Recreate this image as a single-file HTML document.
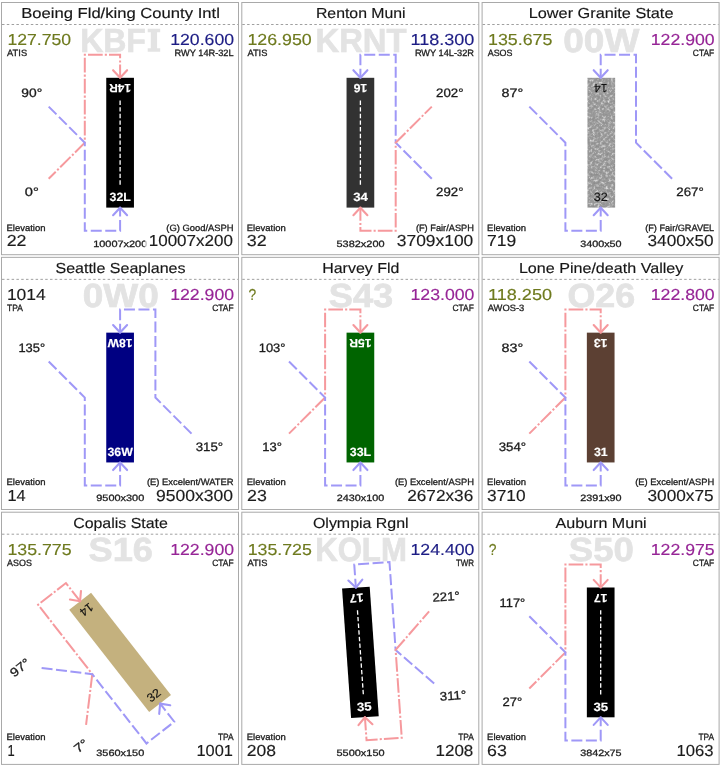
<!DOCTYPE html>
<html lang="en"><head><meta charset="utf-8"><title>Airport traffic patterns</title>
<style>
html,body{margin:0;padding:0;background:#fff;}
body{width:720px;height:765px;overflow:hidden;position:relative;font-family:"Liberation Sans",sans-serif;}
.grid{position:absolute;left:0;top:0;width:720px;height:765px;filter:blur(0.5px);}
.cell{will-change:transform;position:absolute;width:240px;height:256px;overflow:hidden;}
.cell svg{text-rendering:geometricPrecision;display:block;width:240px;height:256px;font-family:"Liberation Sans",sans-serif;}
</style></head><body>
<svg width="0" height="0" style="position:absolute"><defs>
<filter id="gravel" x="0" y="0" width="100%" height="100%" color-interpolation-filters="sRGB">
<feTurbulence type="fractalNoise" baseFrequency="0.38" numOctaves="3" seed="11" result="n"/>
<feColorMatrix in="n" type="matrix" values="1 0 0 0 0  1 0 0 0 0  1 0 0 0 0  0 0 0 0 1" result="g"/>
<feComponentTransfer in="g" result="m">
<feFuncR type="table" tableValues="0.52 0.55 0.58 0.61 0.72 0.86 0.92"/>
<feFuncG type="table" tableValues="0.52 0.55 0.58 0.61 0.72 0.86 0.92"/>
<feFuncB type="table" tableValues="0.52 0.55 0.58 0.61 0.72 0.86 0.92"/>
</feComponentTransfer>
<feComposite in="m" in2="SourceGraphic" operator="in"/>
</filter></defs></svg>
<div class="grid">
<div class="cell" style="left:0px;top:0px"><svg viewBox="0 0 240 256"><g transform="translate(0.00 0.00)"><rect x="1.5" y="2.5" width="237" height="252.2" fill="#fff" stroke="#a9a9a9" stroke-width="1"/><line x1="2" y1="24.5" x2="238" y2="24.5" stroke="#a0a0a0" stroke-width="1" stroke-dasharray="2.5 2.3"/><text x="80.20" y="51.70" font-size="33.4" fill="#e3e3e3" font-weight="700" textLength="65.70" lengthAdjust="spacingAndGlyphs" stroke="#e3e3e3" stroke-width="0.7">KBF</text><path d="M147.7 28.8h12.5v3.4h-3.1v16.1h3.1v3.4h-12.5v-3.4h3.1v-16.1h-3.1z" fill="#e3e3e3"/><text x="21.15" y="18.30" font-size="14.5" fill="#161616" textLength="198.70" lengthAdjust="spacingAndGlyphs" stroke="#161616" stroke-width="0.15">Boeing Fld/king County Intl</text><text x="7.40" y="45.00" font-size="15.9" fill="#6e7a1e" textLength="63.70" lengthAdjust="spacingAndGlyphs" stroke="#6e7a1e" stroke-width="0.15">127.750</text><text x="7.10" y="56.00" font-size="9.1" fill="#1c1c1c" textLength="20.00" lengthAdjust="spacingAndGlyphs" stroke="#1c1c1c" stroke-width="0.3">ATIS</text><text x="170.20" y="45.00" font-size="15.9" fill="#1c1c84" textLength="63.90" lengthAdjust="spacingAndGlyphs" stroke="#1c1c84" stroke-width="0.15">120.600</text><text x="174.60" y="56.00" font-size="9.1" fill="#1c1c1c" textLength="59.00" lengthAdjust="spacingAndGlyphs" stroke="#1c1c1c" stroke-width="0.3">RWY 14R-32L</text><g transform="translate(120.1 142.7) rotate(0)"><rect x="-13.85" y="-64.9" width="27.7" height="129.8" fill="#000"/><path d="M-71.40 36.10L-35.30 0L-35.30 -88.00L0 -88.00L0 -64.10" fill="none" stroke="#f6999d" stroke-width="2" stroke-dasharray="14.7 2.1 2.1 2.1" stroke-dashoffset="4.75"/><path d="M-7.00 -72.50L0 -65.00L7.00 -72.50" fill="none" stroke-linejoin="round" stroke="#f6999d" stroke-width="2.1" stroke-linecap="round"/><path d="M-71.40 -36.10L-35.30 0L-35.30 88.00L0 88.00L0 64.10" fill="none" stroke="#9f98f7" stroke-width="2" stroke-dasharray="11 3.5"/><path d="M-7.00 72.50L0 65.00L7.00 72.50" fill="none" stroke-linejoin="round" stroke="#9f98f7" stroke-width="2.1" stroke-linecap="round"/><line x1="0" y1="-42.2" x2="0" y2="42.4" stroke="#fff" stroke-width="1.3" stroke-dasharray="4.4 2.25"/><g transform="rotate(180 0 -54.3)"><text x="-10.80" y="-50.05" font-size="12.0" fill="#fff" font-weight="700" textLength="21.60" lengthAdjust="spacingAndGlyphs" stroke="#fff" stroke-width="0.15">14R</text></g><text x="-10.55" y="58.55" font-size="12.0" fill="#fff" font-weight="700" textLength="21.30" lengthAdjust="spacingAndGlyphs" stroke="#fff" stroke-width="0.15">32L</text><text x="-98.80" y="-45.45" font-size="12.3" fill="#1c1c1c" textLength="20.90" lengthAdjust="spacingAndGlyphs" stroke="#1c1c1c" stroke-width="0.3">90°</text><text x="-95.35" y="53.75" font-size="12.3" fill="#1c1c1c" textLength="14.00" lengthAdjust="spacingAndGlyphs" stroke="#1c1c1c" stroke-width="0.3">0°</text></g><text x="6.50" y="230.50" font-size="9.1" fill="#1c1c1c" textLength="39.00" lengthAdjust="spacingAndGlyphs" stroke="#1c1c1c" stroke-width="0.3">Elevation</text><text x="6.70" y="246.35" font-size="15.9" fill="#1c1c1c" textLength="19.80" lengthAdjust="spacingAndGlyphs" stroke="#1c1c1c" stroke-width="0.15">22</text><text x="93.20" y="246.50" font-size="9.2" fill="#1c1c1c" textLength="54.10" lengthAdjust="spacingAndGlyphs" stroke="#1c1c1c" stroke-width="0.3">10007x200</text><text x="166.30" y="230.50" font-size="9.1" fill="#1c1c1c" textLength="67.30" lengthAdjust="spacingAndGlyphs" stroke="#1c1c1c" stroke-width="0.3">(G) Good/ASPH</text><rect x="145.2" y="233" width="90.3" height="17" fill="#fff" fill-opacity="0.75"/><text x="148.70" y="246.35" font-size="15.9" fill="#1c1c1c" textLength="84.30" lengthAdjust="spacingAndGlyphs" stroke="#1c1c1c" stroke-width="0.15">10007x200</text></g></svg></div>
<div class="cell" style="left:240px;top:0px"><svg viewBox="0 0 240 256"><g transform="translate(0.30 0.00)"><rect x="1.5" y="2.5" width="237" height="252.2" fill="#fff" stroke="#a9a9a9" stroke-width="1"/><line x1="2" y1="24.5" x2="238" y2="24.5" stroke="#a0a0a0" stroke-width="1" stroke-dasharray="2.5 2.3"/><text x="75.20" y="51.70" font-size="33.4" fill="#e3e3e3" font-weight="700" textLength="91.00" lengthAdjust="spacingAndGlyphs" stroke="#e3e3e3" stroke-width="0.7">KRNT</text><text x="75.65" y="18.30" font-size="14.5" fill="#161616" textLength="89.70" lengthAdjust="spacingAndGlyphs" stroke="#161616" stroke-width="0.15">Renton Muni</text><text x="7.10" y="45.00" font-size="15.9" fill="#6e7a1e" textLength="64.30" lengthAdjust="spacingAndGlyphs" stroke="#6e7a1e" stroke-width="0.15">126.950</text><text x="7.10" y="56.00" font-size="9.1" fill="#1c1c1c" textLength="20.00" lengthAdjust="spacingAndGlyphs" stroke="#1c1c1c" stroke-width="0.3">ATIS</text><text x="170.20" y="45.00" font-size="15.9" fill="#1c1c84" textLength="63.90" lengthAdjust="spacingAndGlyphs" stroke="#1c1c84" stroke-width="0.15">118.300</text><text x="174.60" y="56.00" font-size="9.1" fill="#1c1c1c" textLength="59.00" lengthAdjust="spacingAndGlyphs" stroke="#1c1c1c" stroke-width="0.3">RWY 14L-32R</text><g transform="translate(120.1 142.7) rotate(0)"><rect x="-13.85" y="-64.9" width="27.7" height="129.8" fill="#323232"/><path d="M71.40 36.10L35.30 0L35.30 -88.00L0 -88.00L0 -64.10" fill="none" stroke="#9f98f7" stroke-width="2" stroke-dasharray="11 3.5"/><path d="M-7.00 -72.50L0 -65.00L7.00 -72.50" fill="none" stroke-linejoin="round" stroke="#9f98f7" stroke-width="2.1" stroke-linecap="round"/><path d="M71.40 -36.10L35.30 0L35.30 88.00L0 88.00L0 64.10" fill="none" stroke="#f6999d" stroke-width="2" stroke-dasharray="14.7 2.1 2.1 2.1" stroke-dashoffset="4.75"/><path d="M-7.00 72.50L0 65.00L7.00 72.50" fill="none" stroke-linejoin="round" stroke="#f6999d" stroke-width="2.1" stroke-linecap="round"/><line x1="0" y1="-42.2" x2="0" y2="42.4" stroke="#fff" stroke-width="1.3" stroke-dasharray="4.4 2.25"/><g transform="rotate(180 0 -54.3)"><text x="-6.90" y="-50.05" font-size="12.0" fill="#fff" font-weight="700" textLength="13.80" lengthAdjust="spacingAndGlyphs" stroke="#fff" stroke-width="0.15">16</text></g><text x="-7.25" y="58.55" font-size="12.0" fill="#fff" font-weight="700" textLength="14.70" lengthAdjust="spacingAndGlyphs" stroke="#fff" stroke-width="0.15">34</text><text x="75.65" y="-45.45" font-size="12.3" fill="#1c1c1c" textLength="27.40" lengthAdjust="spacingAndGlyphs" stroke="#1c1c1c" stroke-width="0.3">202°</text><text x="75.65" y="53.75" font-size="12.3" fill="#1c1c1c" textLength="27.40" lengthAdjust="spacingAndGlyphs" stroke="#1c1c1c" stroke-width="0.3">292°</text></g><text x="6.50" y="230.50" font-size="9.1" fill="#1c1c1c" textLength="39.00" lengthAdjust="spacingAndGlyphs" stroke="#1c1c1c" stroke-width="0.3">Elevation</text><text x="6.50" y="246.35" font-size="15.9" fill="#1c1c1c" textLength="19.90" lengthAdjust="spacingAndGlyphs" stroke="#1c1c1c" stroke-width="0.15">32</text><text x="96.25" y="246.50" font-size="9.2" fill="#1c1c1c" textLength="48.00" lengthAdjust="spacingAndGlyphs" stroke="#1c1c1c" stroke-width="0.3">5382x200</text><text x="175.60" y="230.50" font-size="9.1" fill="#1c1c1c" textLength="58.00" lengthAdjust="spacingAndGlyphs" stroke="#1c1c1c" stroke-width="0.3">(F) Fair/ASPH</text><rect x="153.0" y="233" width="82.5" height="17" fill="#fff" fill-opacity="0.75"/><text x="156.50" y="246.35" font-size="15.9" fill="#1c1c1c" textLength="76.50" lengthAdjust="spacingAndGlyphs" stroke="#1c1c1c" stroke-width="0.15">3709x100</text></g></svg></div>
<div class="cell" style="left:480px;top:0px"><svg viewBox="0 0 240 256"><g transform="translate(0.60 0.00)"><rect x="1.5" y="2.5" width="237" height="252.2" fill="#fff" stroke="#a9a9a9" stroke-width="1"/><line x1="2" y1="24.5" x2="238" y2="24.5" stroke="#a0a0a0" stroke-width="1" stroke-dasharray="2.5 2.3"/><text x="82.70" y="51.70" font-size="33.4" fill="#e3e3e3" font-weight="700" textLength="76.00" lengthAdjust="spacingAndGlyphs" stroke="#e3e3e3" stroke-width="0.7">00W</text><text x="48.15" y="18.30" font-size="14.5" fill="#161616" textLength="144.70" lengthAdjust="spacingAndGlyphs" stroke="#161616" stroke-width="0.15">Lower Granite State</text><text x="7.40" y="45.00" font-size="15.9" fill="#6e7a1e" textLength="64.40" lengthAdjust="spacingAndGlyphs" stroke="#6e7a1e" stroke-width="0.15">135.675</text><text x="7.10" y="56.00" font-size="9.1" fill="#1c1c1c" textLength="24.80" lengthAdjust="spacingAndGlyphs" stroke="#1c1c1c" stroke-width="0.3">ASOS</text><text x="170.20" y="45.00" font-size="15.9" fill="#962496" textLength="63.90" lengthAdjust="spacingAndGlyphs" stroke="#962496" stroke-width="0.15">122.900</text><text x="212.20" y="56.00" font-size="9.1" fill="#1c1c1c" textLength="21.40" lengthAdjust="spacingAndGlyphs" stroke="#1c1c1c" stroke-width="0.3">CTAF</text><g transform="translate(120.1 142.7) rotate(0)"><rect x="-13.25" y="-64.9" width="27.7" height="129.8" fill="#a4a4a4" filter="url(#gravel)"/><path d="M-71.40 -36.10L-35.30 0L-35.30 88.00L0 88.00L0 64.10" fill="none" stroke="#9f98f7" stroke-width="2" stroke-dasharray="11 3.5"/><path d="M-7.00 72.50L0 65.00L7.00 72.50" fill="none" stroke-linejoin="round" stroke="#9f98f7" stroke-width="2.1" stroke-linecap="round"/><path d="M71.40 36.10L35.30 0L35.30 -88.00L0 -88.00L0 -64.10" fill="none" stroke="#9f98f7" stroke-width="2" stroke-dasharray="11 3.5"/><path d="M-7.00 -72.50L0 -65.00L7.00 -72.50" fill="none" stroke-linejoin="round" stroke="#9f98f7" stroke-width="2.1" stroke-linecap="round"/><g transform="rotate(180 0 -54.3)"><text x="-6.70" y="-50.05" font-size="12.0" fill="#111" textLength="13.40" lengthAdjust="spacingAndGlyphs" stroke="#111" stroke-width="0.15">14</text></g><text x="-6.90" y="58.55" font-size="12.0" fill="#111" textLength="14.00" lengthAdjust="spacingAndGlyphs" stroke="#111" stroke-width="0.15">32</text><text x="-99.20" y="-45.45" font-size="12.3" fill="#1c1c1c" textLength="21.70" lengthAdjust="spacingAndGlyphs" stroke="#1c1c1c" stroke-width="0.3">87°</text><text x="75.65" y="53.75" font-size="12.3" fill="#1c1c1c" textLength="27.40" lengthAdjust="spacingAndGlyphs" stroke="#1c1c1c" stroke-width="0.3">267°</text></g><text x="6.50" y="230.50" font-size="9.1" fill="#1c1c1c" textLength="39.00" lengthAdjust="spacingAndGlyphs" stroke="#1c1c1c" stroke-width="0.3">Elevation</text><text x="6.50" y="246.35" font-size="15.9" fill="#1c1c1c" textLength="29.20" lengthAdjust="spacingAndGlyphs" stroke="#1c1c1c" stroke-width="0.15">719</text><text x="99.55" y="246.50" font-size="9.2" fill="#1c1c1c" textLength="41.40" lengthAdjust="spacingAndGlyphs" stroke="#1c1c1c" stroke-width="0.3">3400x50</text><text x="164.60" y="230.50" font-size="9.1" fill="#1c1c1c" textLength="69.00" lengthAdjust="spacingAndGlyphs" stroke="#1c1c1c" stroke-width="0.3">(F) Fair/GRAVEL</text><rect x="163.4" y="233" width="72.1" height="17" fill="#fff" fill-opacity="0.75"/><text x="166.90" y="246.35" font-size="15.9" fill="#1c1c1c" textLength="66.10" lengthAdjust="spacingAndGlyphs" stroke="#1c1c1c" stroke-width="0.15">3400x50</text></g></svg></div>
<div class="cell" style="left:0px;top:254px"><svg viewBox="0 0 240 256"><g transform="translate(0.00 0.85)"><rect x="1.5" y="2.5" width="237" height="252.2" fill="#fff" stroke="#a9a9a9" stroke-width="1"/><line x1="2" y1="24.5" x2="238" y2="24.5" stroke="#a0a0a0" stroke-width="1" stroke-dasharray="2.5 2.3"/><text x="82.70" y="51.70" font-size="33.4" fill="#e3e3e3" font-weight="700" textLength="76.00" lengthAdjust="spacingAndGlyphs" stroke="#e3e3e3" stroke-width="0.7">0W0</text><text x="55.45" y="18.30" font-size="14.5" fill="#161616" textLength="130.10" lengthAdjust="spacingAndGlyphs" stroke="#161616" stroke-width="0.15">Seattle Seaplanes</text><text x="6.90" y="45.00" font-size="15.9" fill="#1c1c1c" textLength="38.90" lengthAdjust="spacingAndGlyphs" stroke="#1c1c1c" stroke-width="0.15">1014</text><text x="7.10" y="56.00" font-size="9.1" fill="#1c1c1c" textLength="15.80" lengthAdjust="spacingAndGlyphs" stroke="#1c1c1c" stroke-width="0.3">TPA</text><text x="170.20" y="45.00" font-size="15.9" fill="#962496" textLength="63.90" lengthAdjust="spacingAndGlyphs" stroke="#962496" stroke-width="0.15">122.900</text><text x="212.20" y="56.00" font-size="9.1" fill="#1c1c1c" textLength="21.40" lengthAdjust="spacingAndGlyphs" stroke="#1c1c1c" stroke-width="0.3">CTAF</text><g transform="translate(120.1 142.7) rotate(0)"><rect x="-13.85" y="-64.9" width="27.7" height="129.8" fill="#000082"/><path d="M-71.40 -36.10L-35.30 0L-35.30 88.00L0 88.00L0 64.10" fill="none" stroke="#9f98f7" stroke-width="2" stroke-dasharray="11 3.5"/><path d="M-7.00 72.50L0 65.00L7.00 72.50" fill="none" stroke-linejoin="round" stroke="#9f98f7" stroke-width="2.1" stroke-linecap="round"/><path d="M71.40 36.10L35.30 0L35.30 -88.00L0 -88.00L0 -64.10" fill="none" stroke="#9f98f7" stroke-width="2" stroke-dasharray="11 3.5"/><path d="M-7.00 -72.50L0 -65.00L7.00 -72.50" fill="none" stroke-linejoin="round" stroke="#9f98f7" stroke-width="2.1" stroke-linecap="round"/><g transform="rotate(180 0 -54.3)"><text x="-12.35" y="-50.05" font-size="12.0" fill="#fff" font-weight="700" textLength="24.70" lengthAdjust="spacingAndGlyphs" stroke="#fff" stroke-width="0.15">18W</text></g><text x="-12.60" y="58.55" font-size="12.0" fill="#fff" font-weight="700" textLength="25.40" lengthAdjust="spacingAndGlyphs" stroke="#fff" stroke-width="0.15">36W</text><text x="-101.70" y="-45.45" font-size="12.3" fill="#1c1c1c" textLength="26.70" lengthAdjust="spacingAndGlyphs" stroke="#1c1c1c" stroke-width="0.3">135°</text><text x="75.65" y="53.75" font-size="12.3" fill="#1c1c1c" textLength="27.40" lengthAdjust="spacingAndGlyphs" stroke="#1c1c1c" stroke-width="0.3">315°</text></g><text x="6.50" y="230.50" font-size="9.1" fill="#1c1c1c" textLength="39.00" lengthAdjust="spacingAndGlyphs" stroke="#1c1c1c" stroke-width="0.3">Elevation</text><text x="7.50" y="246.35" font-size="15.9" fill="#1c1c1c" textLength="18.20" lengthAdjust="spacingAndGlyphs" stroke="#1c1c1c" stroke-width="0.15">14</text><text x="96.25" y="246.50" font-size="9.2" fill="#1c1c1c" textLength="48.00" lengthAdjust="spacingAndGlyphs" stroke="#1c1c1c" stroke-width="0.3">9500x300</text><text x="146.90" y="230.50" font-size="9.1" fill="#1c1c1c" textLength="86.70" lengthAdjust="spacingAndGlyphs" stroke="#1c1c1c" stroke-width="0.3">(E) Excelent/WATER</text><rect x="152.4" y="233" width="83.1" height="17" fill="#fff" fill-opacity="0.75"/><text x="155.90" y="246.35" font-size="15.9" fill="#1c1c1c" textLength="77.10" lengthAdjust="spacingAndGlyphs" stroke="#1c1c1c" stroke-width="0.15">9500x300</text></g></svg></div>
<div class="cell" style="left:240px;top:254px"><svg viewBox="0 0 240 256"><g transform="translate(0.30 0.85)"><rect x="1.5" y="2.5" width="237" height="252.2" fill="#fff" stroke="#a9a9a9" stroke-width="1"/><line x1="2" y1="24.5" x2="238" y2="24.5" stroke="#a0a0a0" stroke-width="1" stroke-dasharray="2.5 2.3"/><text x="88.50" y="51.70" font-size="33.4" fill="#e3e3e3" font-weight="700" textLength="64.40" lengthAdjust="spacingAndGlyphs" stroke="#e3e3e3" stroke-width="0.7">S43</text><text x="81.95" y="18.30" font-size="14.5" fill="#161616" textLength="77.10" lengthAdjust="spacingAndGlyphs" stroke="#161616" stroke-width="0.15">Harvey Fld</text><text x="8.10" y="45.00" font-size="15.9" fill="#6e7a1e" textLength="7.70" lengthAdjust="spacingAndGlyphs" stroke="#6e7a1e" stroke-width="0.15">?</text><text x="170.20" y="45.00" font-size="15.9" fill="#962496" textLength="63.90" lengthAdjust="spacingAndGlyphs" stroke="#962496" stroke-width="0.15">123.000</text><text x="212.20" y="56.00" font-size="9.1" fill="#1c1c1c" textLength="21.40" lengthAdjust="spacingAndGlyphs" stroke="#1c1c1c" stroke-width="0.3">CTAF</text><g transform="translate(120.1 142.7) rotate(0)"><rect x="-13.85" y="-64.9" width="27.7" height="129.8" fill="#006400"/><path d="M-71.40 36.10L-35.30 0L-35.30 -88.00L0 -88.00L0 -64.10" fill="none" stroke="#f6999d" stroke-width="2" stroke-dasharray="14.7 2.1 2.1 2.1" stroke-dashoffset="4.75"/><path d="M-7.00 -72.50L0 -65.00L7.00 -72.50" fill="none" stroke-linejoin="round" stroke="#f6999d" stroke-width="2.1" stroke-linecap="round"/><path d="M-71.40 -36.10L-35.30 0L-35.30 88.00L0 88.00L0 64.10" fill="none" stroke="#9f98f7" stroke-width="2" stroke-dasharray="11 3.5"/><path d="M-7.00 72.50L0 65.00L7.00 72.50" fill="none" stroke-linejoin="round" stroke="#9f98f7" stroke-width="2.1" stroke-linecap="round"/><g transform="rotate(180 0 -54.3)"><text x="-11.05" y="-50.05" font-size="12.0" fill="#fff" font-weight="700" textLength="22.10" lengthAdjust="spacingAndGlyphs" stroke="#fff" stroke-width="0.15">15R</text></g><text x="-10.60" y="58.55" font-size="12.0" fill="#fff" font-weight="700" textLength="21.40" lengthAdjust="spacingAndGlyphs" stroke="#fff" stroke-width="0.15">33L</text><text x="-101.70" y="-45.45" font-size="12.3" fill="#1c1c1c" textLength="26.70" lengthAdjust="spacingAndGlyphs" stroke="#1c1c1c" stroke-width="0.3">103°</text><text x="-98.20" y="53.75" font-size="12.3" fill="#1c1c1c" textLength="19.70" lengthAdjust="spacingAndGlyphs" stroke="#1c1c1c" stroke-width="0.3">13°</text></g><text x="6.50" y="230.50" font-size="9.1" fill="#1c1c1c" textLength="39.00" lengthAdjust="spacingAndGlyphs" stroke="#1c1c1c" stroke-width="0.3">Elevation</text><text x="6.70" y="246.35" font-size="15.9" fill="#1c1c1c" textLength="19.80" lengthAdjust="spacingAndGlyphs" stroke="#1c1c1c" stroke-width="0.15">23</text><text x="96.55" y="246.50" font-size="9.2" fill="#1c1c1c" textLength="47.40" lengthAdjust="spacingAndGlyphs" stroke="#1c1c1c" stroke-width="0.3">2430x100</text><text x="154.60" y="230.50" font-size="9.1" fill="#1c1c1c" textLength="79.00" lengthAdjust="spacingAndGlyphs" stroke="#1c1c1c" stroke-width="0.3">(E) Excelent/ASPH</text><rect x="163.4" y="233" width="72.1" height="17" fill="#fff" fill-opacity="0.75"/><text x="166.90" y="246.35" font-size="15.9" fill="#1c1c1c" textLength="66.10" lengthAdjust="spacingAndGlyphs" stroke="#1c1c1c" stroke-width="0.15">2672x36</text></g></svg></div>
<div class="cell" style="left:480px;top:254px"><svg viewBox="0 0 240 256"><g transform="translate(0.60 0.85)"><rect x="1.5" y="2.5" width="237" height="252.2" fill="#fff" stroke="#a9a9a9" stroke-width="1"/><line x1="2" y1="24.5" x2="238" y2="24.5" stroke="#a0a0a0" stroke-width="1" stroke-dasharray="2.5 2.3"/><text x="86.85" y="51.70" font-size="33.4" fill="#e3e3e3" font-weight="700" textLength="67.70" lengthAdjust="spacingAndGlyphs" stroke="#e3e3e3" stroke-width="0.7">O26</text><text x="38.30" y="18.30" font-size="14.5" fill="#161616" textLength="164.40" lengthAdjust="spacingAndGlyphs" stroke="#161616" stroke-width="0.15">Lone Pine/death Valley</text><text x="7.40" y="45.00" font-size="15.9" fill="#6e7a1e" textLength="64.00" lengthAdjust="spacingAndGlyphs" stroke="#6e7a1e" stroke-width="0.15">118.250</text><text x="7.10" y="56.00" font-size="9.1" fill="#1c1c1c" textLength="36.50" lengthAdjust="spacingAndGlyphs" stroke="#1c1c1c" stroke-width="0.3">AWOS-3</text><text x="170.20" y="45.00" font-size="15.9" fill="#962496" textLength="63.90" lengthAdjust="spacingAndGlyphs" stroke="#962496" stroke-width="0.15">122.800</text><text x="212.20" y="56.00" font-size="9.1" fill="#1c1c1c" textLength="21.40" lengthAdjust="spacingAndGlyphs" stroke="#1c1c1c" stroke-width="0.3">CTAF</text><g transform="translate(120.1 142.7) rotate(0)"><rect x="-13.85" y="-64.9" width="27.7" height="129.8" fill="#5c4033"/><path d="M-71.40 36.10L-35.30 0L-35.30 -88.00L0 -88.00L0 -64.10" fill="none" stroke="#f6999d" stroke-width="2" stroke-dasharray="14.7 2.1 2.1 2.1" stroke-dashoffset="4.75"/><path d="M-7.00 -72.50L0 -65.00L7.00 -72.50" fill="none" stroke-linejoin="round" stroke="#f6999d" stroke-width="2.1" stroke-linecap="round"/><path d="M-71.40 -36.10L-35.30 0L-35.30 88.00L0 88.00L0 64.10" fill="none" stroke="#9f98f7" stroke-width="2" stroke-dasharray="11 3.5"/><path d="M-7.00 72.50L0 65.00L7.00 72.50" fill="none" stroke-linejoin="round" stroke="#9f98f7" stroke-width="2.1" stroke-linecap="round"/><g transform="rotate(180 0 -54.3)"><text x="-6.90" y="-50.05" font-size="12.0" fill="#fff" font-weight="700" textLength="13.80" lengthAdjust="spacingAndGlyphs" stroke="#fff" stroke-width="0.15">13</text></g><text x="-6.80" y="58.55" font-size="12.0" fill="#fff" font-weight="700" textLength="13.80" lengthAdjust="spacingAndGlyphs" stroke="#fff" stroke-width="0.15">31</text><text x="-99.20" y="-45.45" font-size="12.3" fill="#1c1c1c" textLength="21.70" lengthAdjust="spacingAndGlyphs" stroke="#1c1c1c" stroke-width="0.3">83°</text><text x="-102.05" y="53.75" font-size="12.3" fill="#1c1c1c" textLength="27.40" lengthAdjust="spacingAndGlyphs" stroke="#1c1c1c" stroke-width="0.3">354°</text></g><text x="6.50" y="230.50" font-size="9.1" fill="#1c1c1c" textLength="39.00" lengthAdjust="spacingAndGlyphs" stroke="#1c1c1c" stroke-width="0.3">Elevation</text><text x="6.50" y="246.35" font-size="15.9" fill="#1c1c1c" textLength="38.50" lengthAdjust="spacingAndGlyphs" stroke="#1c1c1c" stroke-width="0.15">3710</text><text x="99.55" y="246.50" font-size="9.2" fill="#1c1c1c" textLength="41.40" lengthAdjust="spacingAndGlyphs" stroke="#1c1c1c" stroke-width="0.3">2391x90</text><text x="154.60" y="230.50" font-size="9.1" fill="#1c1c1c" textLength="79.00" lengthAdjust="spacingAndGlyphs" stroke="#1c1c1c" stroke-width="0.3">(E) Excelent/ASPH</text><rect x="163.4" y="233" width="72.1" height="17" fill="#fff" fill-opacity="0.75"/><text x="166.90" y="246.35" font-size="15.9" fill="#1c1c1c" textLength="66.10" lengthAdjust="spacingAndGlyphs" stroke="#1c1c1c" stroke-width="0.15">3000x75</text></g></svg></div>
<div class="cell" style="left:0px;top:509px"><svg viewBox="0 0 240 256"><g transform="translate(0.00 0.70)"><rect x="1.5" y="2.5" width="237" height="252.2" fill="#fff" stroke="#a9a9a9" stroke-width="1"/><line x1="2" y1="24.5" x2="238" y2="24.5" stroke="#a0a0a0" stroke-width="1" stroke-dasharray="2.5 2.3"/><text x="88.50" y="51.70" font-size="33.4" fill="#e3e3e3" font-weight="700" textLength="64.40" lengthAdjust="spacingAndGlyphs" stroke="#e3e3e3" stroke-width="0.7">S16</text><text x="73.15" y="18.30" font-size="14.5" fill="#161616" textLength="94.70" lengthAdjust="spacingAndGlyphs" stroke="#161616" stroke-width="0.15">Copalis State</text><text x="7.40" y="45.00" font-size="15.9" fill="#6e7a1e" textLength="64.20" lengthAdjust="spacingAndGlyphs" stroke="#6e7a1e" stroke-width="0.15">135.775</text><text x="7.10" y="56.00" font-size="9.1" fill="#1c1c1c" textLength="24.80" lengthAdjust="spacingAndGlyphs" stroke="#1c1c1c" stroke-width="0.3">ASOS</text><text x="170.20" y="45.00" font-size="15.9" fill="#962496" textLength="63.90" lengthAdjust="spacingAndGlyphs" stroke="#962496" stroke-width="0.15">122.900</text><text x="212.20" y="56.00" font-size="9.1" fill="#1c1c1c" textLength="21.40" lengthAdjust="spacingAndGlyphs" stroke="#1c1c1c" stroke-width="0.3">CTAF</text><g transform="translate(120.1 142.7) rotate(-38)"><rect x="-13.85" y="-64.9" width="27.7" height="129.8" fill="#c4b17e"/><path d="M-71.40 36.10L-35.30 0L-35.30 -88.00L0 -88.00L0 -64.10" fill="none" stroke="#f6999d" stroke-width="2" stroke-dasharray="14.7 2.1 2.1 2.1" stroke-dashoffset="4.75"/><path d="M-7.00 -72.50L0 -65.00L7.00 -72.50" fill="none" stroke-linejoin="round" stroke="#f6999d" stroke-width="2.1" stroke-linecap="round"/><path d="M-71.40 -36.10L-35.30 0L-35.30 88.00L0 88.00L0 64.10" fill="none" stroke="#9f98f7" stroke-width="2" stroke-dasharray="11 3.5"/><path d="M-7.00 72.50L0 65.00L7.00 72.50" fill="none" stroke-linejoin="round" stroke="#9f98f7" stroke-width="2.1" stroke-linecap="round"/><g transform="rotate(180 0 -54.3)"><text x="-6.70" y="-50.05" font-size="12.0" fill="#111" textLength="13.40" lengthAdjust="spacingAndGlyphs" stroke="#111" stroke-width="0.15">14</text></g><text x="-6.90" y="58.55" font-size="12.0" fill="#111" textLength="14.00" lengthAdjust="spacingAndGlyphs" stroke="#111" stroke-width="0.15">32</text><text x="-99.20" y="-45.45" font-size="12.3" fill="#1c1c1c" textLength="21.70" lengthAdjust="spacingAndGlyphs" stroke="#1c1c1c" stroke-width="0.3">97°</text><text x="-95.35" y="53.75" font-size="12.3" fill="#1c1c1c" textLength="14.00" lengthAdjust="spacingAndGlyphs" stroke="#1c1c1c" stroke-width="0.3">7°</text></g><text x="6.50" y="230.50" font-size="9.1" fill="#1c1c1c" textLength="39.00" lengthAdjust="spacingAndGlyphs" stroke="#1c1c1c" stroke-width="0.3">Elevation</text><text x="7.50" y="246.35" font-size="15.9" fill="#1c1c1c" textLength="7.20" lengthAdjust="spacingAndGlyphs" stroke="#1c1c1c" stroke-width="0.15">1</text><text x="96.25" y="246.50" font-size="9.2" fill="#1c1c1c" textLength="48.00" lengthAdjust="spacingAndGlyphs" stroke="#1c1c1c" stroke-width="0.3">3560x150</text><text x="217.90" y="230.50" font-size="9.1" fill="#1c1c1c" textLength="15.70" lengthAdjust="spacingAndGlyphs" stroke="#1c1c1c" stroke-width="0.3">TPA</text><rect x="193.0" y="233" width="42.5" height="17" fill="#fff" fill-opacity="0.75"/><text x="196.50" y="246.35" font-size="15.9" fill="#1c1c1c" textLength="36.50" lengthAdjust="spacingAndGlyphs" stroke="#1c1c1c" stroke-width="0.15">1001</text></g></svg></div>
<div class="cell" style="left:240px;top:509px"><svg viewBox="0 0 240 256"><g transform="translate(0.30 0.70)"><rect x="1.5" y="2.5" width="237" height="252.2" fill="#fff" stroke="#a9a9a9" stroke-width="1"/><line x1="2" y1="24.5" x2="238" y2="24.5" stroke="#a0a0a0" stroke-width="1" stroke-dasharray="2.5 2.3"/><text x="74.85" y="51.70" font-size="33.4" fill="#e3e3e3" font-weight="700" textLength="91.70" lengthAdjust="spacingAndGlyphs" stroke="#e3e3e3" stroke-width="0.7">KOLM</text><text x="72.65" y="18.30" font-size="14.5" fill="#161616" textLength="95.70" lengthAdjust="spacingAndGlyphs" stroke="#161616" stroke-width="0.15">Olympia Rgnl</text><text x="7.40" y="45.00" font-size="15.9" fill="#6e7a1e" textLength="64.20" lengthAdjust="spacingAndGlyphs" stroke="#6e7a1e" stroke-width="0.15">135.725</text><text x="7.10" y="56.00" font-size="9.1" fill="#1c1c1c" textLength="20.00" lengthAdjust="spacingAndGlyphs" stroke="#1c1c1c" stroke-width="0.3">ATIS</text><text x="170.20" y="45.00" font-size="15.9" fill="#1c1c84" textLength="63.90" lengthAdjust="spacingAndGlyphs" stroke="#1c1c84" stroke-width="0.15">124.400</text><text x="215.60" y="56.00" font-size="9.1" fill="#1c1c1c" textLength="18.00" lengthAdjust="spacingAndGlyphs" stroke="#1c1c1c" stroke-width="0.3">TWR</text><g transform="translate(120.1 142.7) rotate(-4)"><rect x="-13.85" y="-64.9" width="27.7" height="129.8" fill="#000"/><path d="M71.40 36.10L35.30 0L35.30 -88.00L0 -88.00L0 -64.10" fill="none" stroke="#9f98f7" stroke-width="2" stroke-dasharray="11 3.5"/><path d="M-7.00 -72.50L0 -65.00L7.00 -72.50" fill="none" stroke-linejoin="round" stroke="#9f98f7" stroke-width="2.1" stroke-linecap="round"/><path d="M71.40 -36.10L35.30 0L35.30 88.00L0 88.00L0 64.10" fill="none" stroke="#f6999d" stroke-width="2" stroke-dasharray="14.7 2.1 2.1 2.1" stroke-dashoffset="4.75"/><path d="M-7.00 72.50L0 65.00L7.00 72.50" fill="none" stroke-linejoin="round" stroke="#f6999d" stroke-width="2.1" stroke-linecap="round"/><line x1="0" y1="-42.2" x2="0" y2="42.4" stroke="#fff" stroke-width="1.3" stroke-dasharray="4.4 2.25"/><g transform="rotate(180 0 -54.3)"><text x="-6.90" y="-50.05" font-size="12.0" fill="#fff" font-weight="700" textLength="13.80" lengthAdjust="spacingAndGlyphs" stroke="#fff" stroke-width="0.15">17</text></g><text x="-7.25" y="58.55" font-size="12.0" fill="#fff" font-weight="700" textLength="14.70" lengthAdjust="spacingAndGlyphs" stroke="#fff" stroke-width="0.15">35</text><text x="75.65" y="-45.45" font-size="12.3" fill="#1c1c1c" textLength="27.40" lengthAdjust="spacingAndGlyphs" stroke="#1c1c1c" stroke-width="0.3">221°</text><text x="76.00" y="53.75" font-size="12.3" fill="#1c1c1c" textLength="26.70" lengthAdjust="spacingAndGlyphs" stroke="#1c1c1c" stroke-width="0.3">311°</text></g><text x="6.50" y="230.50" font-size="9.1" fill="#1c1c1c" textLength="39.00" lengthAdjust="spacingAndGlyphs" stroke="#1c1c1c" stroke-width="0.3">Elevation</text><text x="6.50" y="246.35" font-size="15.9" fill="#1c1c1c" textLength="29.20" lengthAdjust="spacingAndGlyphs" stroke="#1c1c1c" stroke-width="0.15">208</text><text x="96.25" y="246.50" font-size="9.2" fill="#1c1c1c" textLength="48.00" lengthAdjust="spacingAndGlyphs" stroke="#1c1c1c" stroke-width="0.3">5500x150</text><text x="217.90" y="230.50" font-size="9.1" fill="#1c1c1c" textLength="15.70" lengthAdjust="spacingAndGlyphs" stroke="#1c1c1c" stroke-width="0.3">TPA</text><rect x="191.7" y="233" width="43.8" height="17" fill="#fff" fill-opacity="0.75"/><text x="195.20" y="246.35" font-size="15.9" fill="#1c1c1c" textLength="37.80" lengthAdjust="spacingAndGlyphs" stroke="#1c1c1c" stroke-width="0.15">1208</text></g></svg></div>
<div class="cell" style="left:480px;top:509px"><svg viewBox="0 0 240 256"><g transform="translate(0.60 0.70)"><rect x="1.5" y="2.5" width="237" height="252.2" fill="#fff" stroke="#a9a9a9" stroke-width="1"/><line x1="2" y1="24.5" x2="238" y2="24.5" stroke="#a0a0a0" stroke-width="1" stroke-dasharray="2.5 2.3"/><text x="88.20" y="51.70" font-size="33.4" fill="#e3e3e3" font-weight="700" textLength="65.00" lengthAdjust="spacingAndGlyphs" stroke="#e3e3e3" stroke-width="0.7">S50</text><text x="74.95" y="18.30" font-size="14.5" fill="#161616" textLength="91.10" lengthAdjust="spacingAndGlyphs" stroke="#161616" stroke-width="0.15">Auburn Muni</text><text x="8.10" y="45.00" font-size="15.9" fill="#6e7a1e" textLength="7.70" lengthAdjust="spacingAndGlyphs" stroke="#6e7a1e" stroke-width="0.15">?</text><text x="170.20" y="45.00" font-size="15.9" fill="#962496" textLength="63.90" lengthAdjust="spacingAndGlyphs" stroke="#962496" stroke-width="0.15">122.975</text><text x="212.20" y="56.00" font-size="9.1" fill="#1c1c1c" textLength="21.40" lengthAdjust="spacingAndGlyphs" stroke="#1c1c1c" stroke-width="0.3">CTAF</text><g transform="translate(120.1 142.7) rotate(0)"><rect x="-13.85" y="-64.9" width="27.7" height="129.8" fill="#000"/><path d="M-71.40 36.10L-35.30 0L-35.30 -88.00L0 -88.00L0 -64.10" fill="none" stroke="#f6999d" stroke-width="2" stroke-dasharray="14.7 2.1 2.1 2.1" stroke-dashoffset="4.75"/><path d="M-7.00 -72.50L0 -65.00L7.00 -72.50" fill="none" stroke-linejoin="round" stroke="#f6999d" stroke-width="2.1" stroke-linecap="round"/><path d="M-71.40 -36.10L-35.30 0L-35.30 88.00L0 88.00L0 64.10" fill="none" stroke="#9f98f7" stroke-width="2" stroke-dasharray="11 3.5"/><path d="M-7.00 72.50L0 65.00L7.00 72.50" fill="none" stroke-linejoin="round" stroke="#9f98f7" stroke-width="2.1" stroke-linecap="round"/><line x1="0" y1="-42.2" x2="0" y2="42.4" stroke="#fff" stroke-width="1.3" stroke-dasharray="4.4 2.25"/><g transform="rotate(180 0 -54.3)"><text x="-6.90" y="-50.05" font-size="12.0" fill="#fff" font-weight="700" textLength="13.80" lengthAdjust="spacingAndGlyphs" stroke="#fff" stroke-width="0.15">17</text></g><text x="-7.25" y="58.55" font-size="12.0" fill="#fff" font-weight="700" textLength="14.70" lengthAdjust="spacingAndGlyphs" stroke="#fff" stroke-width="0.15">35</text><text x="-101.20" y="-45.45" font-size="12.3" fill="#1c1c1c" textLength="25.70" lengthAdjust="spacingAndGlyphs" stroke="#1c1c1c" stroke-width="0.3">117°</text><text x="-98.20" y="53.75" font-size="12.3" fill="#1c1c1c" textLength="19.70" lengthAdjust="spacingAndGlyphs" stroke="#1c1c1c" stroke-width="0.3">27°</text></g><text x="6.50" y="230.50" font-size="9.1" fill="#1c1c1c" textLength="39.00" lengthAdjust="spacingAndGlyphs" stroke="#1c1c1c" stroke-width="0.3">Elevation</text><text x="6.50" y="246.35" font-size="15.9" fill="#1c1c1c" textLength="19.80" lengthAdjust="spacingAndGlyphs" stroke="#1c1c1c" stroke-width="0.15">63</text><text x="99.55" y="246.50" font-size="9.2" fill="#1c1c1c" textLength="41.40" lengthAdjust="spacingAndGlyphs" stroke="#1c1c1c" stroke-width="0.3">3842x75</text><text x="217.90" y="230.50" font-size="9.1" fill="#1c1c1c" textLength="15.70" lengthAdjust="spacingAndGlyphs" stroke="#1c1c1c" stroke-width="0.3">TPA</text><rect x="192.4" y="233" width="43.1" height="17" fill="#fff" fill-opacity="0.75"/><text x="195.90" y="246.35" font-size="15.9" fill="#1c1c1c" textLength="37.10" lengthAdjust="spacingAndGlyphs" stroke="#1c1c1c" stroke-width="0.15">1063</text></g></svg></div>
</div></body></html>
